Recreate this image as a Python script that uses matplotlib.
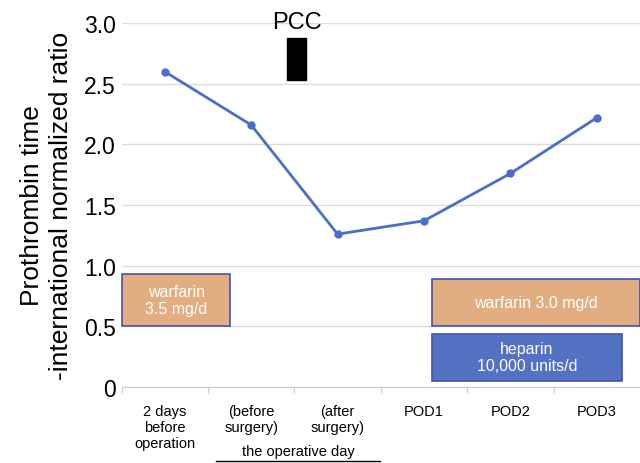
import matplotlib.pyplot as plt
import numpy as np

plt.rcParams['font.family'] = ['Liberation Sans', 'DejaVu Sans']

# data
categories = ['2 days\nbefore\noperation', '(before\nsurgery)', '(after\nsurgery)',
              'POD1', 'POD2', 'POD3']
inr = [2.60, 2.16, 1.26, 1.37, 1.76, 2.22]
ytick_vals = [0, 0.5, 1.0, 1.5, 2.0, 2.5, 3.0]
ytick_labels = ['0', '0.5', '1.0', '1.5', '2.0', '2.5', '3.0']

# medication boxes: (label, x start, x end, y low, y high)
warfarin1 = ('warfarin\n3.5 mg/d', -0.5, 0.76, 0.50, 0.93)
warfarin2 = ('warfarin 3.0 mg/d', 3.09, 5.5, 0.50, 0.89)
heparin = ('heparin\n10,000 units/d', 3.09, 5.29, 0.05, 0.44)
pcc = ('PCC', 1.41, 1.64, 2.53, 2.88)

line_color = '#4A6FC8'
orange = '#E2AD80'
blue = '#5472C4'
edge = '#3F56A8'

fig = plt.figure(figsize=(6.4, 4.64), dpi=100)
ax = fig.add_axes([0.19, 0.164, 0.81, 0.784])

x = np.arange(len(categories))
ax.plot(x, inr, color=line_color, lw=2, marker='o', ms=5, zorder=3)

ax.set_xlim(-0.5, 5.5)
ax.set_ylim(0, 3.0)
ax.set_yticks(ytick_vals)
ax.set_yticklabels(ytick_labels, fontsize=16.5)
ax.tick_params(axis='y', length=0, pad=4)
ax.grid(axis='y', color='#DDDDDD', lw=1)
ax.set_axisbelow(True)

ax.set_xticks(np.arange(-0.5, 6, 1))
ax.set_xticklabels([])
ax.tick_params(axis='x', which='major', length=4, color='#CCCCCC')
ax.set_xticks(x, minor=True)
ax.set_xticklabels(categories, minor=True, fontsize=10.5, va='top', linespacing=1.2)
ax.tick_params(axis='x', which='minor', length=0, pad=12)

for s in ['top', 'right', 'left']:
    ax.spines[s].set_visible(False)
ax.spines['bottom'].set_color('#CCCCCC')

ax.set_ylabel('Prothrombin time\n-international normalized ratio', fontsize=19,
              labelpad=8, linespacing=1.25)

for box, fc in [(warfarin1, orange), (warfarin2, orange), (heparin, blue)]:
    label, x0, x1, y0, y1 = box
    ax.add_patch(plt.Rectangle((x0, y0), x1 - x0, y1 - y0, facecolor=fc,
                               edgecolor=edge, lw=1.2, zorder=2, clip_on=False))
    ax.text((x0 + x1) / 2, (y0 + y1) / 2, label, color='white', ha='center',
            va='center', fontsize=11.5, zorder=4, linespacing=1.2)

label, x0, x1, y0, y1 = pcc
ax.add_patch(plt.Rectangle((x0, y0), x1 - x0, y1 - y0, facecolor='black',
                           edgecolor='black', zorder=2, clip_on=False))
ax.text((x0 + x1) / 2, 3.01, label, ha='center', va='center', fontsize=17,
        clip_on=False)

# "the operative day" bracket under two categories
fig.text(298 / 640, 1 - 452 / 464, 'the operative day', ha='center', va='center',
         fontsize=10.5)
fig.add_artist(plt.Line2D([216 / 640, 380 / 640], [1 - 462 / 464, 1 - 462 / 464],
                          color='black', lw=1))

fig.savefig('out.png', dpi=100)
